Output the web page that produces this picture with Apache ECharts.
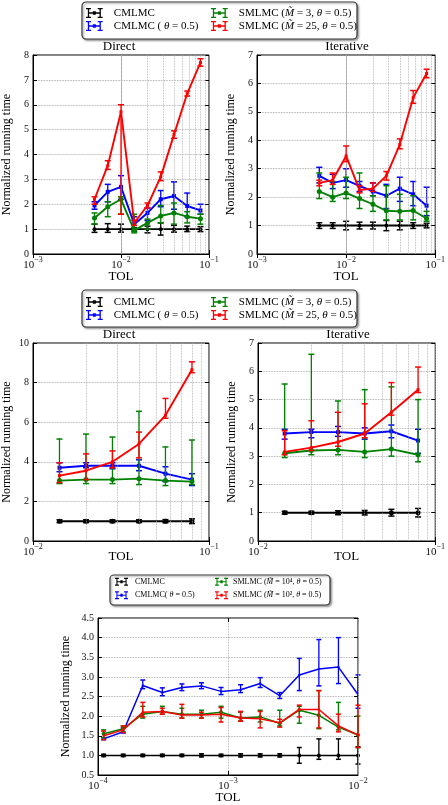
<!DOCTYPE html>
<html><head><meta charset="utf-8">
<script src="https://cdn.jsdelivr.net/npm/echarts@6/dist/echarts.min.js"></script>
<style>html,body{margin:0;padding:0;background:#fff}#c{width:448px;height:805px}</style>
</head><body><div id="c"></div>
<script>
// ---------- DATA ----------
const nameC = 'CMLMC';
const nameCT = 'CMLMC ( θ = 0.5)';
const nameS3 = 'SMLMC (M̃ = 3, θ = 0.5)';
const nameS25 = 'SMLMC (M̃ = 25, θ = 0.5)';
const nameCT2 = 'CMLMC( θ = 0.5)';
const nameS4 = 'SMLMC (M̃ = 10⁴, θ = 0.5)';
const nameS2 = 'SMLMC (M̃ = 10², θ = 0.5)';

const tolTop = [0.005, 0.00707, 0.01, 0.01414, 0.02, 0.02828, 0.04, 0.05657, 0.08];
const tolMid = [0.01414, 0.02, 0.02828, 0.04, 0.05657, 0.08];
const tolBot = [1.105e-4, 1.563e-4, 2.21e-4, 3.125e-4, 4.419e-4, 6.25e-4, 8.839e-4, 1.25e-3, 1.768e-3, 2.5e-3, 3.536e-3, 5e-3, 7.071e-3, 1e-2];

const minorTop = [0.002,0.003,0.004,0.005,0.006,0.007,0.008,0.009,0.02,0.03,0.04,0.05,0.06,0.07,0.08,0.09];
const minorMid = [0.02,0.03,0.04,0.05,0.06,0.07,0.08,0.09];
const minorBot = [0.0002,0.0003,0.0004,0.0005,0.0006,0.0007,0.0008,0.0009,0.002,0.003,0.004,0.005,0.006,0.007,0.008,0.009];

// Panel 1: Direct (top)
const p1BlackMean = [1,1,1,1,1,1,1,1,1];
const p1BlackLow  = [0.87,0.87,0.88,0.92,0.85,0.76,0.88,0.9,0.9];
const p1BlackHigh = [1.2,1.22,1.2,1.05,1.12,1.25,1.15,1.12,1.1];
const p1BlueMean = [1.95,2.5,2.7,1.2,1.65,2.2,2.33,1.93,1.75];
const p1BlueLow  = [1.8,2.1,2.2,1.0,1.35,1.9,1.8,1.5,1.6];
const p1BlueHigh = [2.1,2.8,3.15,1.5,1.85,2.55,2.9,2.45,2.0];
const p1GreenMean = [1.45,1.9,2.2,0.95,1.25,1.53,1.65,1.5,1.42];
const p1GreenLow  = [1.2,1.5,1.6,0.85,1.0,1.25,1.2,1.25,1.2];
const p1GreenHigh = [1.65,2.1,2.3,1.6,1.4,1.95,2.05,1.7,1.6];
const p1RedMean = [2.2,3.55,5.72,1.25,1.95,3.1,4.8,6.45,7.7];
const p1RedLow  = [2.0,3.4,1.6,1.15,1.85,2.95,4.65,6.35,7.55];
const p1RedHigh = [2.3,3.75,6.0,1.35,2.05,3.3,4.95,6.55,7.85];

// Panel 2: Iterative (top)
const p2BlackMean = [1,1,1,1,1,1,1,1,1];
const p2BlackLow  = [0.9,0.9,0.85,0.88,0.88,0.82,0.85,0.9,0.92];
const p2BlackHigh = [1.1,1.1,1.15,1.12,1.12,1.18,1.15,1.1,1.08];
const p2BlueMean = [2.75,2.5,2.6,2.4,2.2,2.05,2.3,2.1,1.7];
const p2BlueLow  = [2.5,2.3,2.35,2.2,2.05,1.6,1.85,1.7,1.35];
const p2BlueHigh = [3.05,2.8,3.0,2.55,2.5,2.45,2.7,2.55,2.35];
const p2GreenMean = [2.2,2.0,2.15,1.95,1.75,1.52,1.5,1.53,1.25];
const p2GreenLow  = [1.95,1.85,1.95,1.6,1.5,1.2,1.2,1.2,1.15];
const p2GreenHigh = [2.85,2.55,2.7,2.85,2.05,2.4,2.1,2.05,1.5];
const p2RedMean = [2.5,2.6,3.45,2.25,2.3,2.75,3.85,5.5,6.35];
const p2RedLow  = [2.4,2.45,3.25,2.15,2.2,2.6,3.7,5.3,6.2];
const p2RedHigh = [2.6,2.85,3.8,2.4,2.5,2.9,4.05,5.75,6.5];

// Panel 3: Direct (middle)
const p3BlackMean = [1,1,1,1,1,1];
const p3BlackLow  = [0.93,0.93,0.93,0.93,0.92,0.88];
const p3BlackHigh = [1.07,1.07,1.07,1.07,1.08,1.12];
const p3BlueMean = [3.7,3.8,3.8,3.8,3.4,3.1];
const p3BlueLow  = [3.5,3.7,3.65,3.55,3.0,2.8];
const p3BlueHigh = [3.95,3.95,3.95,4.1,3.75,3.4];
const p3GreenMean = [3.05,3.1,3.1,3.15,3.05,3.0];
const p3GreenLow  = [2.9,2.9,2.9,2.85,2.8,2.85];
const p3GreenHigh = [5.15,5.4,5.25,6.55,4.75,5.1];
const p3RedMean = [3.3,3.55,4.0,4.9,6.35,8.65];
const p3RedLow  = [2.95,3.1,3.7,4.2,6.2,8.5];
const p3RedHigh = [3.95,4.4,4.55,5.5,7.2,9.05];

// Panel 4: Iterative (middle)
const p4BlackMean = [1,1,1,1,1,1];
const p4BlackLow  = [0.95,0.95,0.93,0.92,0.88,0.85];
const p4BlackHigh = [1.05,1.05,1.07,1.08,1.12,1.15];
const p4BlueMean = [3.8,3.85,3.85,3.8,3.88,3.55];
const p4BlueLow  = [3.6,3.65,3.7,3.6,3.65,3.1];
const p4BlueHigh = [3.95,3.95,4.05,4.0,4.1,3.95];
const p4GreenMean = [3.1,3.2,3.22,3.15,3.25,3.05];
const p4GreenLow  = [2.95,3.05,3.05,2.95,3.0,2.8];
const p4GreenHigh = [5.55,6.6,4.95,5.35,5.45,5.0];
const p4RedMean = [3.15,3.3,3.5,3.8,4.55,5.35];
const p4RedLow  = [3.05,3.2,3.35,3.65,4.45,5.25];
const p4RedHigh = [3.9,4.25,4.55,4.85,5.6,6.15];

// Panel 5: bottom
const p5BlackMean = [1,1,1,1,1,1,1,1,1,1,1,1,1,1];
const p5BlackLow  = [0.97,0.97,0.97,0.97,0.97,0.96,0.97,0.96,0.96,0.96,0.8,0.9,0.9,0.78];
const p5BlackHigh = [1.03,1.03,1.03,1.03,1.03,1.04,1.03,1.04,1.04,1.04,1.2,1.42,1.42,1.22];
const p5BlueMean = [1.42,1.6,2.78,2.6,2.73,2.77,2.63,2.67,2.83,2.52,3.05,3.2,3.25,2.55];
const p5BlueLow  = [1.4,1.57,2.7,2.52,2.65,2.7,2.55,2.6,2.73,2.45,2.65,2.77,2.83,2.2];
const p5BlueHigh = [1.45,1.7,2.92,2.72,2.82,2.85,2.73,2.8,2.98,2.6,3.47,3.95,4.0,3.05];
const p5GreenMean = [1.55,1.68,2.05,2.12,2.05,2.05,2.1,1.95,1.98,1.82,2.15,2.02,1.72,1.52];
const p5GreenLow  = [1.45,1.6,1.95,2.05,1.95,1.95,1.95,1.88,1.85,1.75,1.82,1.68,1.65,1.2];
const p5GreenHigh = [1.65,1.75,2.25,2.25,2.2,2.15,2.25,2.1,2.15,2.15,2.25,2.65,2.35,2.0];
const p5RedMean = [1.5,1.65,2.1,2.12,2.03,2.03,2.05,1.95,1.93,1.83,2.17,2.17,1.75,1.52];
const p5RedLow  = [1.4,1.58,1.98,2.05,1.95,1.95,1.85,1.87,1.7,1.72,1.98,1.7,1.6,1.2];
const p5RedHigh = [1.62,1.75,2.35,2.2,2.3,2.1,2.22,2.12,2.12,1.92,2.28,2.65,2.05,2.28];

// ---------- CHART ----------
const FONT = '"Liberation Serif", "DejaVu Serif", serif';
const BLACK = '#000000', BLUE = '#0000ff', GREEN = '#008000', RED = '#ff0000';

const panels = [
  {tol: tolTop, x: [1e-3, 1e-1], y: [0, 8, 1], minor: minorTop, yGap: 20, xGap: 16, yFmt: v => String(v),
   ser: [[nameC, BLACK, p1BlackMean, p1BlackLow, p1BlackHigh, 'circle', 4],
         [nameCT, BLUE, p1BlueMean, p1BlueLow, p1BlueHigh, 'rect', 4],
         [nameS3, GREEN, p1GreenMean, p1GreenLow, p1GreenHigh, 'circle', 5],
         [nameS25, RED, p1RedMean, p1RedLow, p1RedHigh, 'rect', 3]]},
  {tol: tolTop, x: [1e-3, 1e-1], y: [0, 7, 1], minor: minorTop, yGap: 20, xGap: 16, yFmt: v => String(v),
   ser: [[nameC, BLACK, p2BlackMean, p2BlackLow, p2BlackHigh, 'circle', 4],
         [nameCT, BLUE, p2BlueMean, p2BlueLow, p2BlueHigh, 'rect', 4],
         [nameS3, GREEN, p2GreenMean, p2GreenLow, p2GreenHigh, 'circle', 5],
         [nameS25, RED, p2RedMean, p2RedLow, p2RedHigh, 'rect', 3]]},
  {tol: tolMid, x: [1e-2, 1e-1], y: [0, 10, 2], minor: minorMid, yGap: 20, xGap: 9, yFmt: v => String(v),
   ser: [[nameC, BLACK, p3BlackMean, p3BlackLow, p3BlackHigh, 'circle', 5],
         [nameCT, BLUE, p3BlueMean, p3BlueLow, p3BlueHigh, 'rect', 4],
         [nameS3, GREEN, p3GreenMean, p3GreenLow, p3GreenHigh, 'circle', 5],
         [nameS25, RED, p3RedMean, p3RedLow, p3RedHigh, 'rect', 3]]},
  {tol: tolMid, x: [1e-2, 1e-1], y: [0, 7, 1], minor: minorMid, yGap: 20, xGap: 9, yFmt: v => String(v),
   ser: [[nameC, BLACK, p4BlackMean, p4BlackLow, p4BlackHigh, 'circle', 5],
         [nameCT, BLUE, p4BlueMean, p4BlueLow, p4BlueHigh, 'rect', 4],
         [nameS3, GREEN, p4GreenMean, p4GreenLow, p4GreenHigh, 'circle', 5],
         [nameS25, RED, p4RedMean, p4RedLow, p4RedHigh, 'rect', 3]]},
  {tol: tolBot, x: [1e-4, 1e-2], y: [0.5, 4.5, 0.5], minor: minorBot, yGap: 26, xGap: 16, yFmt: v => v.toFixed(1),
   ser: [[nameC, BLACK, p5BlackMean, p5BlackLow, p5BlackHigh, 'circle', 4],
         [nameCT2, BLUE, p5BlueMean, p5BlueLow, p5BlueHigh, 'rect', 2],
         [nameS4, GREEN, p5GreenMean, p5GreenLow, p5GreenHigh, 'circle', 4],
         [nameS2, RED, p5RedMean, p5RedLow, p5RedHigh, 'rect', 2]]}
];

const grids = [
  {left: 29, top: 55, width: 180, height: 199},
  {left: 257, top: 55, width: 180, height: 199},
  {left: 29, top: 343, width: 180, height: 198},
  {left: 258, top: 343, width: 180, height: 198},
  {left: 98, top: 618, width: 260, height: 158}
];

const supFmt = v => {
  const e = Math.round(Math.log10(v));
  return '{b|10}{s|' + (e < 0 ? '−' : '') + Math.abs(e) + '}';
};
const tickRich = {
  b: {fontSize: 11, fontFamily: FONT, color: '#111', lineHeight: 15, verticalAlign: 'bottom'},
  s: {fontSize: 8, fontFamily: FONT, color: '#111', lineHeight: 15, verticalAlign: 'top'}
};
const gridLine = {show: true, lineStyle: {type: 'dotted', color: '#999', width: 0.8}};

const xAxes = [], yAxes = [], series = [];
panels.forEach((p, gi) => {
  xAxes.push({
    type: 'log', logBase: 10, gridIndex: gi, min: p.x[0], max: p.x[1],
    name: 'TOL', nameLocation: 'middle', nameGap: p.xGap, nameMoveOverlap: false,
    nameTextStyle: {fontFamily: FONT, fontSize: 13, color: '#000'},
    axisLine: {show: true, lineStyle: {color: '#000', width: 1}},
    axisTick: {show: true, inside: true, length: 4, lineStyle: {color: '#000'}},
    axisLabel: {formatter: supFmt, rich: tickRich, margin: 2, color: '#111'},
    splitLine: gridLine
  });
  yAxes.push({
    type: 'value', gridIndex: gi, min: p.y[0], max: p.y[1], interval: p.y[2],
    name: 'Normalized running time', nameLocation: 'middle', nameGap: p.yGap, nameMoveOverlap: false,
    nameTextStyle: {fontFamily: FONT, fontSize: 12, color: '#000'},
    axisLine: {show: true, lineStyle: {color: '#000', width: 1}},
    axisTick: {show: true, inside: true, length: 4, lineStyle: {color: '#000'}},
    axisLabel: {formatter: p.yFmt, fontFamily: FONT, fontSize: 10, color: '#111', margin: 4},
    splitLine: gridLine
  });
  p.ser.forEach((s, si) => {
    const [name, color, mean, low, high, sym, sz] = s;
    const lineSeries = {
      type: 'line', name: name, xAxisIndex: gi, yAxisIndex: gi,
      data: p.tol.map((t, i) => [t, mean[i]]),
      symbol: sym, symbolSize: sz, showSymbol: true,
      lineStyle: {color: color, width: gi === 4 ? 1.5 : 1.9},
      itemStyle: {color: color},
      z: 3 + si, animation: false, silent: true
    };
    if (si === 0) {
      lineSeries.markLine = {
        silent: true, symbol: 'none', animation: false,
        label: {show: false},
        lineStyle: {type: 'dotted', color: '#aaa', width: 0.8},
        data: p.minor.map(v => ({xAxis: v}))
      };
    }
    series.push(lineSeries);
    series.push({
      type: 'custom', name: name, xAxisIndex: gi, yAxisIndex: gi,
      data: p.tol.map((t, i) => [t, low[i], high[i]]),
      encode: {x: 0, y: [1, 2]}, z: 3 + si, animation: false, silent: true,
      renderItem: (params, api) => {
        const x = api.value(0);
        const a = api.coord([x, api.value(1)]);
        const b = api.coord([x, api.value(2)]);
        const w = gi === 4 ? 2.5 : 3;
        const st = {stroke: color, lineWidth: 1.3};
        const cs = {stroke: color, lineWidth: 1.5};
        return {type: 'group', children: [
          {type: 'line', shape: {x1: a[0], y1: a[1], x2: b[0], y2: b[1]}, style: st},
          {type: 'line', shape: {x1: a[0] - w, y1: a[1], x2: a[0] + w, y2: a[1]}, style: cs},
          {type: 'line', shape: {x1: b[0] - w, y1: b[1], x2: b[0] + w, y2: b[1]}, style: cs}
        ]};
      }
    });
  });
});

// mirrored tick axes on top / right (matplotlib-style frame ticks)
panels.forEach((p, gi) => {
  xAxes.push({type: 'log', logBase: 10, gridIndex: gi, min: p.x[0], max: p.x[1], position: 'top',
    axisLine: {show: false}, axisLabel: {show: false}, splitLine: {show: false},
    axisTick: {show: true, inside: true, length: 4, lineStyle: {color: '#000'}}});
  yAxes.push({type: 'value', gridIndex: gi, min: p.y[0], max: p.y[1], interval: p.y[2], position: 'right',
    axisLine: {show: false}, axisLabel: {show: false}, splitLine: {show: false},
    axisTick: {show: true, inside: true, length: 4, lineStyle: {color: '#000'}}});
});

const ICON = 'path://M0,0H6V1.6H0Z M0,10.4H6V12H0Z M2.2,0H3.8V12H2.2Z M14,0H20V1.6H14Z M14,10.4H20V12H14Z M16.2,0H17.8V12H16.2Z M3,5.1H17V6.9H3Z M8.2,3.8H11.8V8.2H8.2Z';

function legendFmt(name) {
  return '{sp|}' + name.replace(/M̃/g, '{i|M̃}').replace(/θ/g, '{i|θ}');
}
function mkLegend(left, top, data, big, sp) {
  const fs = big ? 11 : 8;
  return {
    left: left, top: top, orient: 'vertical', padding: 0, itemGap: 0,
    itemWidth: big ? 17 : 13, itemHeight: big ? 10 : 8, icon: ICON,
    data: data, selectedMode: false,
    formatter: legendFmt,
    textStyle: {fontFamily: FONT, fontSize: fs, color: '#000', lineHeight: big ? 13 : 13.5,
      rich: {sp: {width: sp}, i: {fontStyle: 'italic', fontFamily: FONT, fontSize: fs, color: '#000'}}}
  };
}

const legends = [
  mkLegend(86, 6.5, [nameC, nameCT], true, 6),
  mkLegend(211, 6.5, [nameS3, nameS25], true, 6),
  mkLegend(86, 295.5, [nameC, nameCT], true, 6),
  mkLegend(211, 295.5, [nameS3, nameS25], true, 6),
  mkLegend(115, 575, [nameC, nameCT2], false, 2),
  mkLegend(215, 575, [nameS4, nameS2], false, 0)
];

function box(x, y, w, h) {
  return {type: 'rect', z: 1, shape: {x: x, y: y, width: w, height: h, r: 4},
    style: {fill: '#fff', stroke: '#333', lineWidth: 1.2,
      shadowBlur: 2, shadowColor: 'rgba(0,0,0,0.35)', shadowOffsetX: 1.5, shadowOffsetY: 1.5}};
}
function ttl(text, x, y) {
  return {type: 'text', z: 5, x: x, y: y,
    style: {text: text, align: 'center', verticalAlign: 'middle', fontFamily: FONT, fontSize: 13, fill: '#000'}};
}

const option = {
  animation: false,
  backgroundColor: '#fff',
  grid: grids.map(g => Object.assign({show: true, borderColor: '#000', borderWidth: 1, backgroundColor: 'transparent'}, g)),
  xAxis: xAxes, yAxis: yAxes, series: series, legend: legends,
  graphic: [
    box(82, 2, 275, 37),
    box(82, 290, 275, 37),
    box(110, 575, 220, 30),
    ttl('Direct', 119, 47), ttl('Iterative', 347, 47),
    ttl('Direct', 119, 335), ttl('Iterative', 348, 335)
  ]
};

const chart = echarts.init(document.getElementById('c'), null, {renderer: 'canvas'});
chart.setOption(option);
</script>
</body></html>
